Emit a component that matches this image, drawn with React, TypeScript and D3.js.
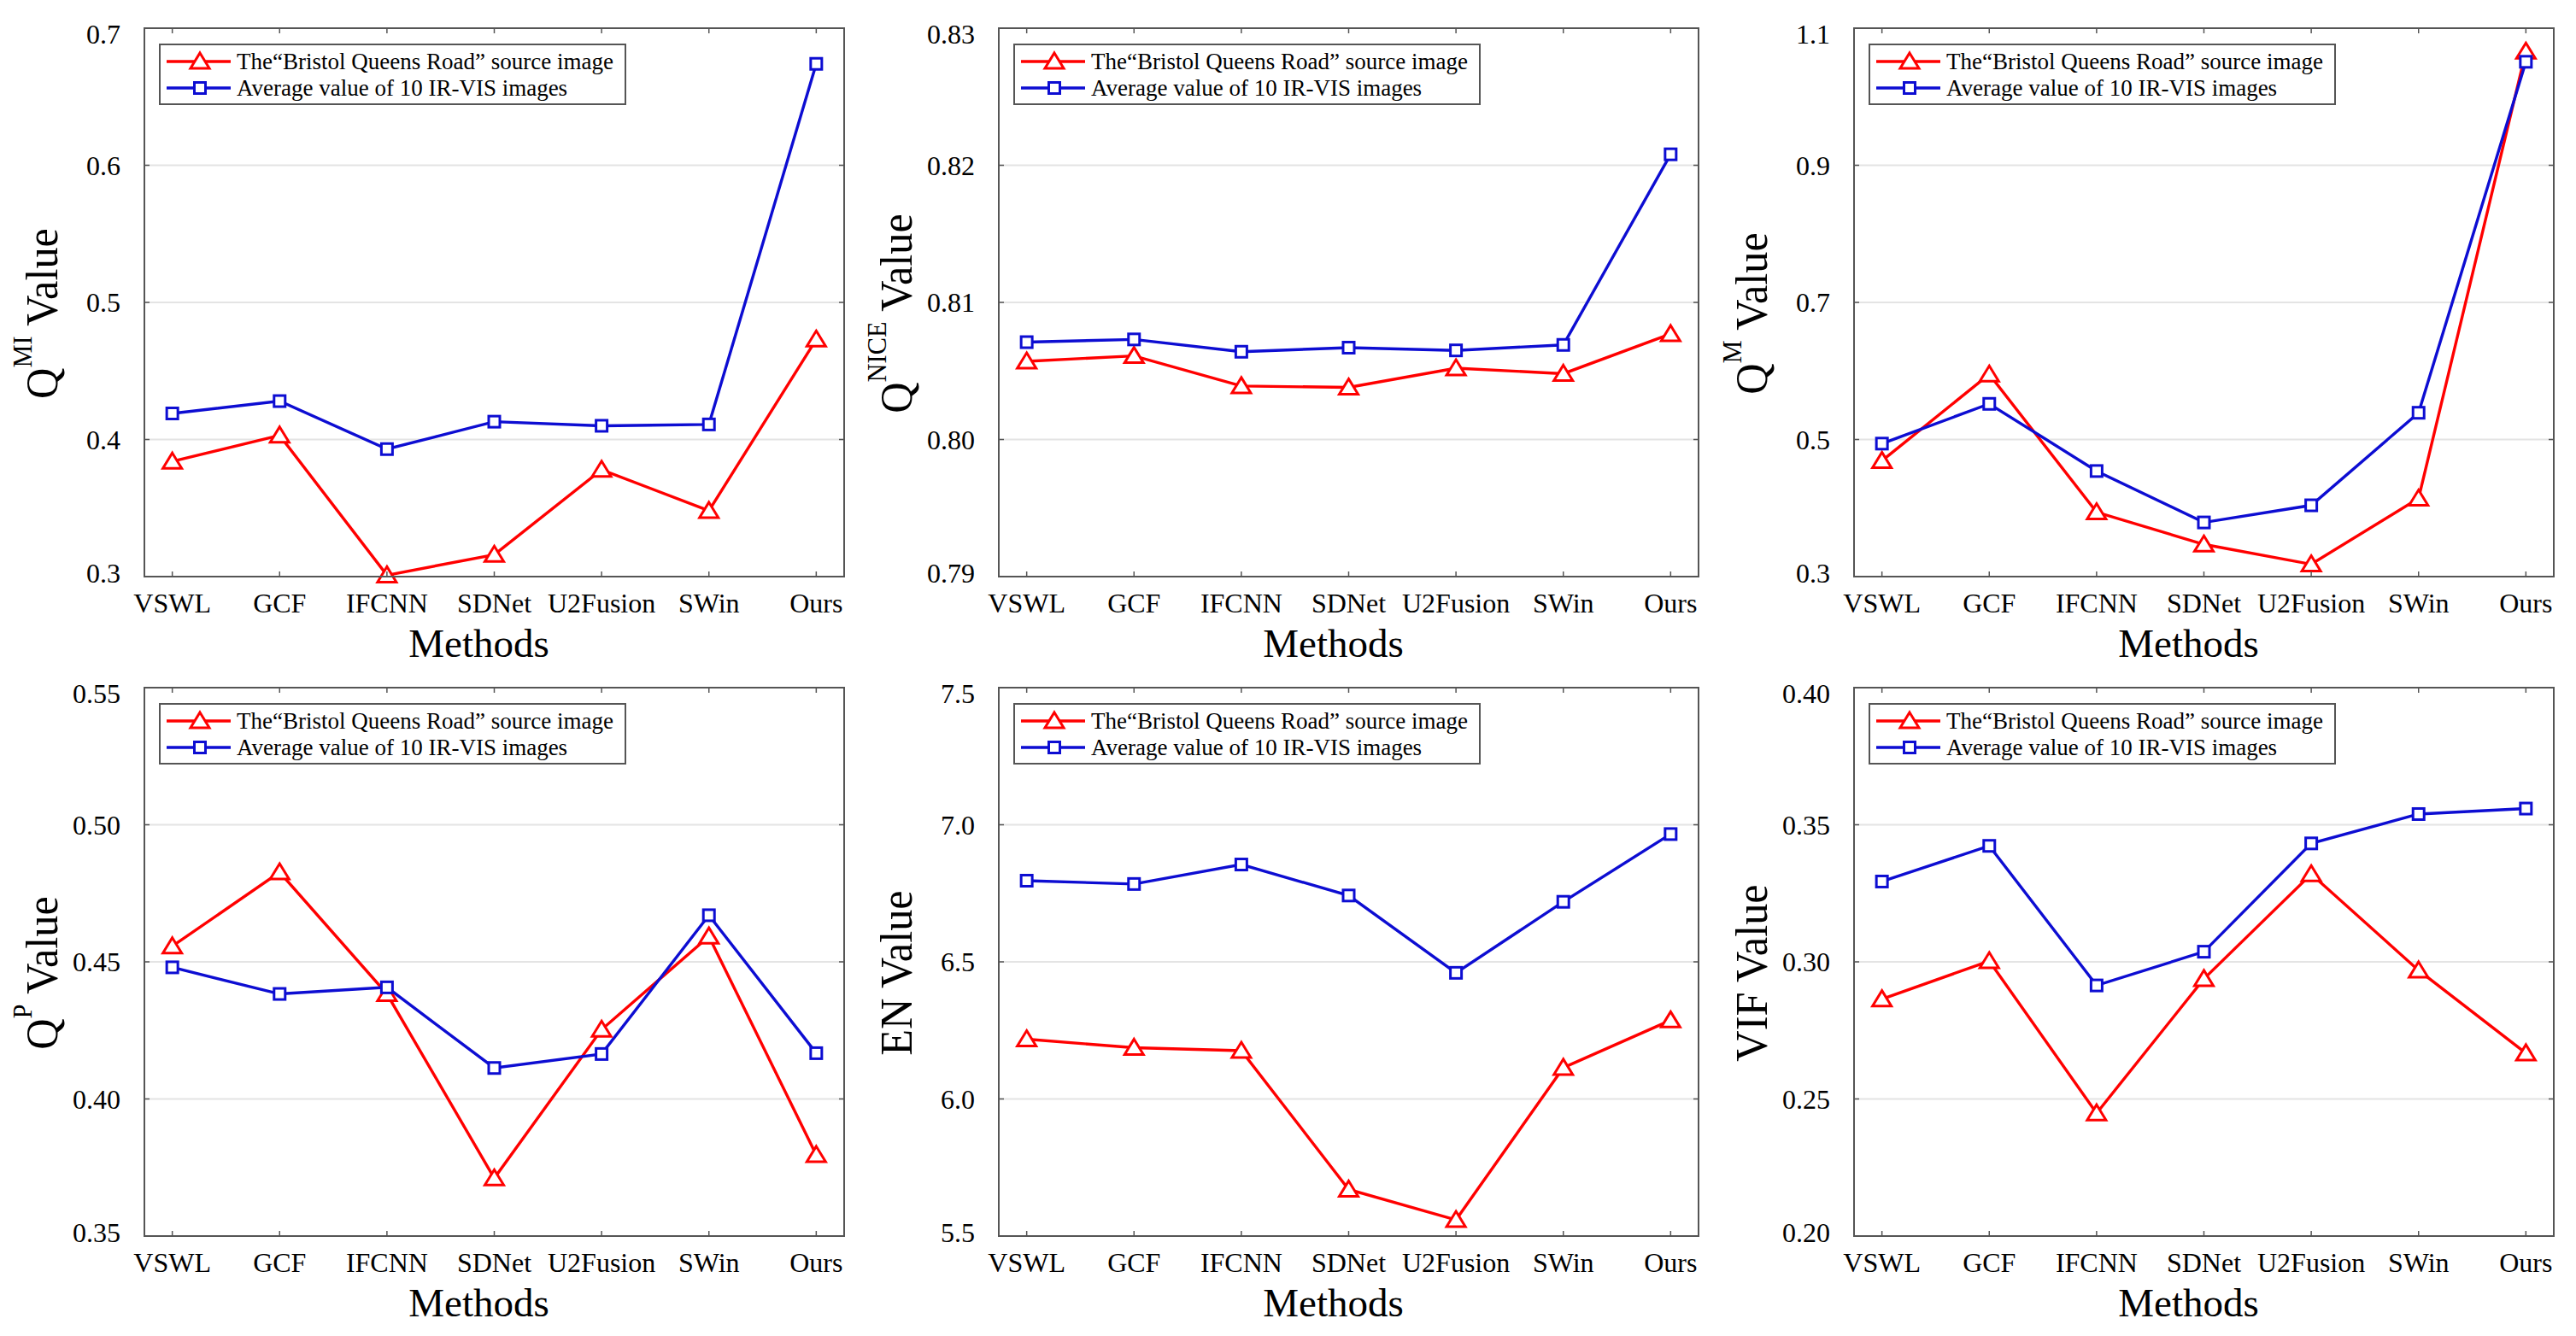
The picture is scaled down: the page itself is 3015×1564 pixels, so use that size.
import React from 'react';
import * as d3 from 'd3';

// categories shared by all six panels
const methods = ['VSWL', 'GCF', 'IFCNN', 'SDNet', 'U2Fusion', 'SWin', 'Ours'];

const seriesNames = ['The\u201CBristol Queens Road\u201D source image', 'Average value of 10 IR-VIS images'];

// values
const bristolQMI = [0.384, 0.403, 0.301, 0.316, 0.378, 0.348, 0.473];
const averageQMI = [0.419, 0.428, 0.393, 0.413, 0.410, 0.411, 0.674];

const bristolQNICE = [0.8057, 0.8061, 0.8039, 0.8038, 0.8052, 0.8048, 0.8077];
const averageQNICE = [0.8071, 0.8073, 0.8064, 0.8067, 0.8065, 0.8069, 0.8208];

const bristolQM = [0.469, 0.595, 0.394, 0.347, 0.318, 0.414, 1.066];
const averageQM = [0.494, 0.552, 0.454, 0.379, 0.404, 0.539, 1.051];

const bristolQP = [0.4557, 0.4827, 0.4383, 0.3711, 0.4253, 0.4593, 0.3796];
const averageQP = [0.448, 0.4383, 0.4407, 0.4113, 0.4164, 0.467, 0.4167];

const bristolEN = [6.218, 6.187, 6.176, 5.670, 5.559, 6.114, 6.287];
const averageEN = [6.796, 6.784, 6.855, 6.742, 6.460, 6.719, 6.966];

const bristolVIF = [0.2864, 0.3003, 0.2448, 0.2938, 0.332, 0.2969, 0.2667];
const averageVIF = [0.3293, 0.3423, 0.2914, 0.3037, 0.3432, 0.3539, 0.3559];

// y tick labels per panel
const ticksQMI = [0.3, 0.4, 0.5, 0.6, 0.7];
const ticksQNICE = [0.79, 0.8, 0.81, 0.82, 0.83];
const ticksQM = [0.3, 0.5, 0.7, 0.9, 1.1];
const ticksQP = [0.35, 0.4, 0.45, 0.5, 0.55];
const ticksEN = [5.5, 6.0, 6.5, 7.0, 7.5];
const ticksVIF = [0.2, 0.25, 0.3, 0.35, 0.4];

interface Panel {
  label: string;
  sup: string;
  red: number[];
  blue: number[];
  ticks: number[];
  digits: number;
}

const panels: Panel[] = [
  { label: 'Q', sup: 'MI', red: bristolQMI, blue: averageQMI, ticks: ticksQMI, digits: 1 },
  { label: 'Q', sup: 'NICE', red: bristolQNICE, blue: averageQNICE, ticks: ticksQNICE, digits: 2 },
  { label: 'Q', sup: 'M', red: bristolQM, blue: averageQM, ticks: ticksQM, digits: 1 },
  { label: 'Q', sup: 'P', red: bristolQP, blue: averageQP, ticks: ticksQP, digits: 2 },
  { label: 'EN', sup: '', red: bristolEN, blue: averageEN, ticks: ticksEN, digits: 1 },
  { label: 'VIF', sup: '', red: bristolVIF, blue: averageVIF, ticks: ticksVIF, digits: 2 },
];

const W = 3015;
const H = 1564;
const colX = [169, 1169, 2170];
const rowY = [33, 805];
const plotW = 819;
const plotH = 642;

const RED = '#ff0000';
const BLUE = '#0d0dd2';
const FRAME = '#555555';
const FONT = "'Liberation Serif', 'Times New Roman', serif";

const Triangle = ({ x, y }: { x: number; y: number }) => (
  <path
    d={`M${x},${y - 10} L${x + 11},${y + 8} L${x - 11},${y + 8} Z`}
    fill="#fff"
    stroke={RED}
    strokeWidth={3}
  />
);

const Square = ({ x, y }: { x: number; y: number }) => (
  <rect x={x - 6.5} y={y - 6.5} width={13} height={13} fill="#fff" stroke={BLUE} strokeWidth={3} />
);

const ChartPanel = ({ p, left, top }: { p: Panel; left: number; top: number }) => {
  const x = d3.scalePoint<string>().domain(methods).range([0, plotW]).padding(0.26);
  const y = d3.scaleLinear().domain([p.ticks[0], p.ticks[p.ticks.length - 1]]).range([plotH, 0]);
  const line = d3.line<number>()
    .x((_, i) => x(methods[i]) as number)
    .y(d => y(d));
  const fmt = d3.format(`.${p.digits}f`);

  return (
    <g transform={`translate(${left},${top})`} fontFamily={FONT}>
      {/* grid */}
      {p.ticks.slice(1, -1).map(t => (
        <line key={t} x1={0} x2={plotW} y1={y(t)} y2={y(t)} stroke="#e4e4e4" strokeWidth={2} />
      ))}
      {/* series */}
      <path d={line(p.red) || ''} fill="none" stroke={RED} strokeWidth={3.4} />
      <path d={line(p.blue) || ''} fill="none" stroke={BLUE} strokeWidth={3.4} />
      {p.red.map((v, i) => <Triangle key={'r' + i} x={x(methods[i]) as number} y={y(v)} />)}
      {p.blue.map((v, i) => <Square key={'b' + i} x={x(methods[i]) as number} y={y(v)} />)}
      {/* frame and ticks */}
      <rect x={0} y={0} width={plotW} height={plotH} fill="none" stroke={FRAME} strokeWidth={2} />
      {methods.map(m => (
        <g key={m}>
          <line x1={x(m)} x2={x(m)} y1={plotH} y2={plotH - 6} stroke={FRAME} strokeWidth={1.5} />
          <line x1={x(m)} x2={x(m)} y1={0} y2={6} stroke={FRAME} strokeWidth={1.5} />
          <text x={x(m)} y={plotH + 42} textAnchor="middle" fontSize={32} fill="#000">{m}</text>
        </g>
      ))}
      {p.ticks.map((t, i) => {
        const last = p.ticks.length - 1;
        const shift = i === last ? 7 : i === 0 ? -4 : 0;
        return (
          <g key={'t' + t}>
            <line x1={0} x2={6} y1={y(t)} y2={y(t)} stroke={FRAME} strokeWidth={1.5} />
            <line x1={plotW} x2={plotW - 6} y1={y(t)} y2={y(t)} stroke={FRAME} strokeWidth={1.5} />
            <text x={-28} y={y(t) + shift} textAnchor="end" dominantBaseline="central" fontSize={32} fill="#000">
              {fmt(t)}
            </text>
          </g>
        );
      })}
      {/* axis titles */}
      <text x={plotW / 2 - 18} y={plotH + 94} textAnchor="middle" fontSize={47} fill="#000">Methods</text>
      <g transform={`translate(-102,${plotH / 2 + 13}) rotate(-90) scale(0.95,1)`}>
        <text x={0} y={0} textAnchor="middle" fontSize={53} fill="#000">
          <tspan>{p.label}</tspan>
          {p.sup ? <tspan fontSize={32} dy={-30}>{p.sup}</tspan> : null}
          <tspan dy={p.sup ? 30 : 0}>{' Value'}</tspan>
        </text>
      </g>
      {/* legend */}
      <g transform="translate(18,19)">
        <rect x={0} y={0} width={545} height={70} fill="#fff" stroke={FRAME} strokeWidth={2} />
        {seriesNames.map((name, i) => {
          const cy = 20 + i * 31;
          const color = i === 0 ? RED : BLUE;
          return (
            <g key={name}>
              <line x1={8} x2={83} y1={cy} y2={cy} stroke={color} strokeWidth={3.4} />
              {i === 0 ? <Triangle x={47} y={cy} /> : <Square x={47} y={cy} />}
              <text x={90} y={cy} dominantBaseline="central" fontSize={27} fill="#000">{name}</text>
            </g>
          );
        })}
      </g>
    </g>
  );
};

export default function App() {
  return (
    <div style={{ position: 'absolute', left: 0, top: 0 }}>
      <svg width={W} height={H} style={{ display: 'block', background: '#fff' }}>
        {panels.map((p, i) => (
          <ChartPanel key={i} p={p} left={colX[i % 3]} top={rowY[Math.floor(i / 3)]} />
        ))}
      </svg>
    </div>
  );
}
